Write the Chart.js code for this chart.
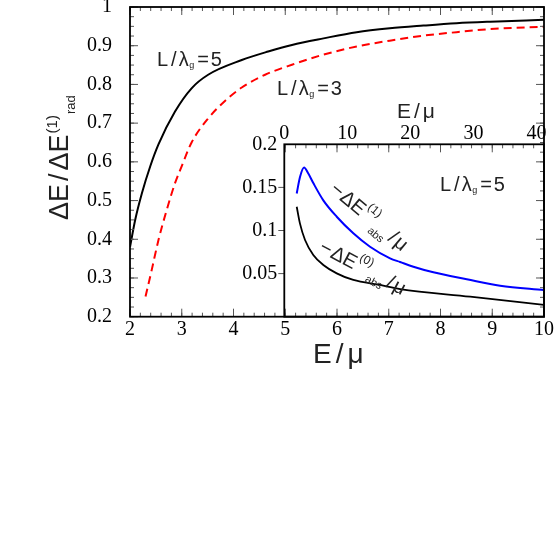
<!DOCTYPE html>
<html>
<head>
<meta charset="utf-8">
<script src="https://cdn.jsdelivr.net/npm/chart.js@4.4.0/dist/chart.umd.min.js"></script>
<style>
  html, body { margin: 0; padding: 0; background: #fff; }
  #wrap { position: relative; width: 554px; height: 554px; }
  #wrap canvas { position: absolute; left: 0; top: 0; }
</style>
</head>
<body>
<div id="wrap">
  <canvas id="main" width="554" height="554"></canvas>
  <canvas id="inset" width="554" height="554"></canvas>
</div>
<script>
// main panel: dE/dE_rad(1) against E/mu
const mainXTicks = [2, 3, 4, 5, 6, 7, 8, 9, 10];
const mainYTicks = [0.2, 0.3, 0.4, 0.5, 0.6, 0.7, 0.8, 0.9, 1];

// L/lambda_g = 5 (solid black)
const ratioE5 = [2.0, 2.1, 2.23, 2.39, 2.55, 2.87, 3.19, 3.51, 4.16, 4.67, 5.13, 5.74, 6.38, 7.02, 7.67, 8.31, 8.96, 10];
const ratio5  = [0.38, 0.45, 0.519, 0.588, 0.645, 0.73, 0.79, 0.825, 0.863, 0.885, 0.902, 0.919, 0.935, 0.945, 0.952, 0.958, 0.962, 0.967];

// L/lambda_g = 3 (red dashed)
const ratioE3 = [2.3, 2.42, 2.55, 2.71, 2.87, 3.0, 3.19, 3.51, 3.84, 4.16, 4.61, 5.13, 5.74, 6.38, 7.02, 7.67, 8.31, 8.96, 10];
const ratio3  = [0.252, 0.321, 0.398, 0.476, 0.545, 0.589, 0.65, 0.712, 0.758, 0.792, 0.825, 0.851, 0.877, 0.898, 0.913, 0.926, 0.935, 0.943, 0.949];

// inset: absorptive parts for L/lambda_g = 5, against E/mu on the top axis
const insetXTicks = [0, 10, 20, 30, 40];
const insetYTicks = [0.05, 0.1, 0.15, 0.2];

const abs1E = [1.97, 2.49, 3.13, 3.81, 4.6, 6.19, 8.32, 10.95, 13.6, 16.78, 18.37, 20.48, 23.65, 28.95, 34.24, 41.2];
const abs1  = [0.143, 0.162, 0.173, 0.166, 0.155, 0.135, 0.116, 0.0968, 0.0812, 0.0677, 0.0635, 0.058, 0.0515, 0.0435, 0.036, 0.031];

const abs0E = [1.97, 2.49, 3.29, 4.6, 6.19, 8.32, 10.95, 15.19, 18.37, 29.48, 41.2];
const abs0  = [0.1276, 0.108, 0.089, 0.0716, 0.06, 0.0503, 0.0426, 0.0368, 0.032, 0.0232, 0.0136];

const SERIF = '"Liberation Serif", "Times New Roman", serif';
const SANS = '"Liberation Sans", Arial, sans-serif';

function pts(xs, ys) {
    return xs.map((x, i) => ({ x: x, y: ys[i] }));
}

function steps(min, max, step) {
    const out = [];
    const n = Math.round((max - min) / step);
    for (let i = 0; i <= n; i++) out.push(+(min + i * step).toFixed(4));
    return out;
}

// no label overhang, so the plot frame lands where the layout says
function noOverhang(s) {
    s.paddingTop = 0; s.paddingBottom = 0;
    s.paddingLeft = 0; s.paddingRight = 0;
}

// tick marks along an axis; len < 0 goes the other way
function marks(ctx, scale, values, from, len, horizontal) {
    values.forEach(v => {
        const p = scale.getPixelForValue(v);
        ctx.beginPath();
        if (horizontal) { ctx.moveTo(p, from); ctx.lineTo(p, from + len); }
        else { ctx.moveTo(from, p); ctx.lineTo(from + len, p); }
        ctx.stroke();
    });
}

// text made of pieces (sub/superscripts), baseline at (x, y)
function label(ctx, x, y, angle, parts) {
    ctx.save();
    ctx.translate(x, y);
    ctx.rotate(angle);
    ctx.textAlign = 'left';
    ctx.textBaseline = 'alphabetic';
    ctx.fillStyle = '#222';
    let cx = 0;
    parts.forEach(p => {
        ctx.font = `${p.size}px ${SANS}`;
        ctx.fillText(p.t, cx, p.dy || 0);
        cx += ctx.measureText(p.t).width + (p.gap || 0);
    });
    ctx.restore();
}

function lambdaParts(n) {
    return [
        { t: 'L', size: 20, gap: 3 },
        { t: '/', size: 20, gap: 2 },
        { t: 'λ', size: 20, gap: 0.5 },
        { t: 'g', size: 9, dy: 2, gap: 3 },
        { t: '=', size: 20, gap: 2 },
        { t: String(n), size: 20 }
    ];
}

function absParts(order, subDy) {
    return [
        { t: '−', size: 20, gap: 1 },
        { t: 'Δ', size: 20, gap: 0 },
        { t: 'E', size: 20, gap: 1 },
        { t: '(' + order + ')', size: 12, dy: -11, gap: 0 },
        { t: 'abs', size: 11, dy: subDy, gap: 3 },
        { t: '/', size: 20, gap: 2 },
        { t: 'μ', size: 20 }
    ];
}

const mainDecor = {
    id: 'mainDecor',
    afterDatasetsDraw(chart) {
        const ctx = chart.ctx;
        const a = chart.chartArea;
        const sx = chart.scales.x, sy = chart.scales.y;
        ctx.save();
        ctx.strokeStyle = '#555';
        ctx.lineWidth = 1;
        const xMinor = steps(2, 10, 0.2), yMinor = steps(0.2, 1, 0.025);
        marks(ctx, sx, xMinor, a.bottom, -4, true);
        marks(ctx, sx, xMinor, a.top, 4, true);
        marks(ctx, sx, mainXTicks, a.bottom, -8, true);
        marks(ctx, sx, mainXTicks, a.top, 8, true);
        marks(ctx, sy, yMinor, a.left, 4, false);
        marks(ctx, sy, yMinor, a.right, -4, false);
        marks(ctx, sy, mainYTicks, a.left, 8, false);
        marks(ctx, sy, mainYTicks, a.right, -8, false);
        ctx.strokeStyle = '#000';
        ctx.lineWidth = 1.8;
        ctx.strokeRect(a.left, a.top, a.right - a.left, a.bottom - a.top);
        ctx.restore();

        label(ctx, 157, 66, 0, lambdaParts(5));
        label(ctx, 277, 95, 0, lambdaParts(3));
        label(ctx, 313, 363, 0, [
            { t: 'E', size: 28, gap: 4 }, { t: '/', size: 28, gap: 4 }, { t: 'μ', size: 28 }
        ]);
        label(ctx, 68, 220, -Math.PI / 2, [
            { t: 'Δ', size: 27, gap: 0 },
            { t: 'E', size: 27, gap: 3 },
            { t: '/', size: 27, gap: 3 },
            { t: 'Δ', size: 27, gap: 0 },
            { t: 'E', size: 27, gap: 1 },
            { t: '(1)', size: 15, dy: -11, gap: 1 },
            { t: 'rad', size: 13, dy: 7 }
        ]);
    }
};

const mainChart = new Chart(document.getElementById('main'), {
    type: 'line',
    data: {
        datasets: [
            {
                data: pts(ratioE5, ratio5),
                borderColor: '#000', borderWidth: 2, pointRadius: 0,
                cubicInterpolationMode: 'monotone', fill: false
            },
            {
                data: pts(ratioE3, ratio3),
                borderColor: '#ff0000', borderWidth: 2, borderDash: [8, 5], pointRadius: 0,
                cubicInterpolationMode: 'monotone', fill: false
            }
        ]
    },
    options: {
        responsive: false,
        animation: false,
        layout: { padding: { left: 0, top: 7, right: 10, bottom: 0 } },
        plugins: { legend: { display: false }, tooltip: { enabled: false } },
        scales: {
            x: {
                type: 'linear', min: 2, max: 10,
                grid: { display: false, drawTicks: false },
                border: { display: false },
                afterBuildTicks: s => { s.ticks = mainXTicks.map(v => ({ value: v })); },
                afterFit: s => { s.height = 237.3; noOverhang(s); },
                ticks: { font: { family: SERIF, size: 20 }, color: '#000', padding: 1, maxRotation: 0, autoSkip: false }
            },
            y: {
                type: 'linear', min: 0.2, max: 1,
                grid: { display: false, drawTicks: false },
                border: { display: false },
                afterBuildTicks: s => { s.ticks = mainYTicks.map(v => ({ value: v })); },
                afterFit: s => { s.width = 130; noOverhang(s); },
                ticks: { font: { family: SERIF, size: 20 }, color: '#000', padding: 18, autoSkip: false,
                         callback: v => String(v) }
            }
        }
    },
    plugins: [mainDecor]
});

const insetDecor = {
    id: 'insetDecor',
    afterDatasetsDraw(chart) {
        const ctx = chart.ctx;
        const a = chart.chartArea;
        const sy = chart.scales.y;
        ctx.save();
        ctx.strokeStyle = '#555';
        ctx.lineWidth = 1;
        // top edge carries the same tick pattern as the shared bottom axis
        const mx = mainChart.scales.x;
        marks(ctx, mx, steps(5, 10, 0.2), a.top, 4, true);
        marks(ctx, mx, [5, 6, 7, 8, 9, 10], a.top, 8, true);
        marks(ctx, sy, insetYTicks.slice(0, 3), a.left, -6, false);
        ctx.strokeStyle = '#000';
        ctx.lineWidth = 1.8;
        ctx.strokeRect(a.left, a.top, a.right - a.left, a.bottom - a.top);
        ctx.restore();

        label(ctx, 440, 191, 0, lambdaParts(5));
        label(ctx, 397, 118, 0, [
            { t: 'E', size: 21, gap: 3 }, { t: '/', size: 21, gap: 3 }, { t: 'μ', size: 21 }
        ]);
        label(ctx, 329, 191, 40 * Math.PI / 180, absParts(1, 7));
        label(ctx, 318, 251, 28 * Math.PI / 180, absParts(0, 5));
    }
};

new Chart(document.getElementById('inset'), {
    type: 'line',
    data: {
        datasets: [
            {
                data: pts(abs1E, abs1),
                borderColor: '#0000ff', borderWidth: 2, pointRadius: 0,
                cubicInterpolationMode: 'monotone', fill: false
            },
            {
                data: pts(abs0E, abs0),
                borderColor: '#000', borderWidth: 1.8, pointRadius: 0,
                cubicInterpolationMode: 'monotone', fill: false
            }
        ]
    },
    options: {
        responsive: false,
        animation: false,
        layout: { padding: { left: 0, top: 0, right: 10, bottom: 237.3 } },
        plugins: { legend: { display: false }, tooltip: { enabled: false } },
        scales: {
            x: {
                type: 'linear', position: 'top', min: 0, max: 41.2,
                grid: { display: false, drawTicks: false },
                border: { display: false },
                afterBuildTicks: s => { s.ticks = insetXTicks.map(v => ({ value: v })); },
                afterFit: s => { s.height = 144.3; noOverhang(s); },
                ticks: { font: { family: SERIF, size: 20 }, color: '#000', padding: -1, maxRotation: 0, autoSkip: false }
            },
            y: {
                type: 'linear', min: 0, max: 0.2,
                grid: { display: false, drawTicks: false },
                border: { display: false },
                afterBuildTicks: s => { s.ticks = insetYTicks.map(v => ({ value: v })); },
                afterFit: s => { s.width = 284.3; noOverhang(s); },
                ticks: { font: { family: SERIF, size: 20 }, color: '#000', padding: 7, autoSkip: false,
                         callback: v => String(v) }
            }
        }
    },
    plugins: [insetDecor]
});
</script>
</body>
</html>
